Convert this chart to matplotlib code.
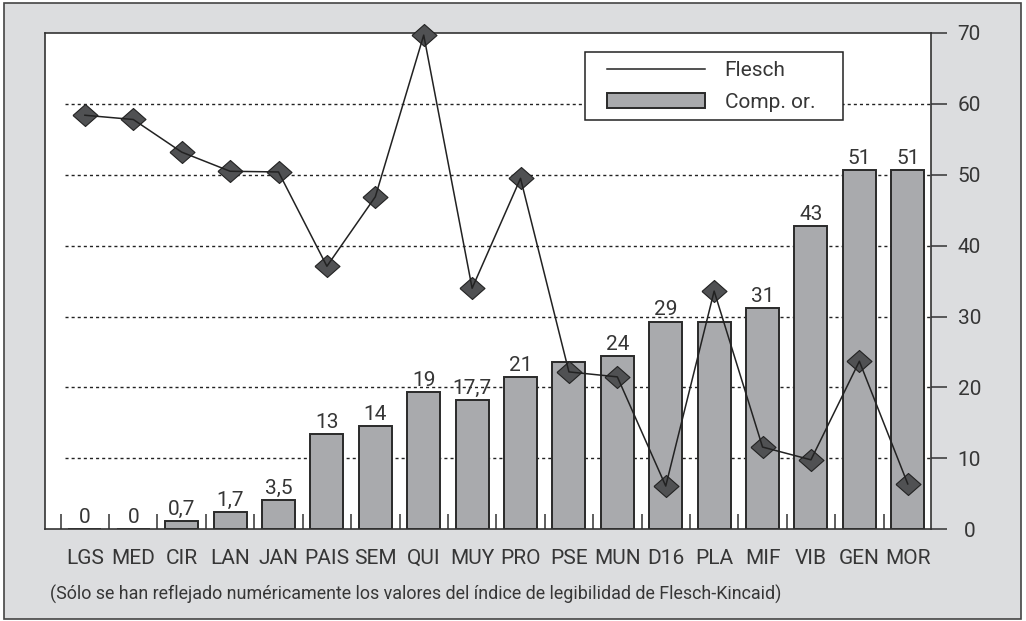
import numpy as np
import matplotlib
matplotlib.use("Agg")
import matplotlib.pyplot as plt
from matplotlib.patches import Rectangle
from matplotlib.lines import Line2D
from matplotlib.patches import Patch

plt.rcParams['font.family'] = ['Roboto', 'DejaVu Sans']

categories = ["LGS", "MED", "CIR", "LAN", "JAN", "PAIS", "SEM", "QUI", "MUY",
              "PRO", "PSE", "MUN", "D16", "PLA", "MIF", "VIB", "GEN", "MOR"]
comp_or = [0, 0, 1.2, 2.4, 4.2, 13.5, 14.6, 19.4, 18.3,
           21.5, 23.6, 24.4, 29.3, 29.3, 31.2, 42.8, 50.7, 50.7]
bar_labels = ["0", "0", "0,7", "1,7", "3,5", "13", "14", "19", "17,7",
              "21", None, "24", "29", None, "31", "43", "51", "51"]
flesch = [58.4, 57.8, 53.2, 50.5, 50.4, 37.1, 46.9, 69.7, 34.0,
          49.5, 22.2, 21.5, 6.1, 33.6, 11.6, 9.8, 23.7, 6.4]
yticks = [0, 10, 20, 30, 40, 50, 60, 70]
note = "(Sólo se han reflejado numéricamente los valores del índice de legibilidad de Flesch-Kincaid)"

TXT = "#363636"
BG = "#dcdddf"
BAR = "#a9aaad"
EDGE = "#2a2a2a"
FS = 15

W, H = 1026, 621
fig = plt.figure(figsize=(W / 100, H / 100), dpi=100)
fig.patch.set_facecolor("white")
fig.add_artist(Rectangle((4 / W, 1 - 619 / H), 1017 / W, 616 / H,
                         transform=fig.transFigure, facecolor=BG,
                         edgecolor="#444444", lw=1.2, zorder=-5))

ax = fig.add_axes([45 / W, 1 - 529.3 / H, 886 / W, 496.3 / H])
ax.set_zorder(1)
ax.set_facecolor("white")
x = np.arange(len(categories))

ax.bar(x, comp_or, width=0.68, color=BAR, edgecolor=EDGE, lw=1.4, zorder=2)
for xi, v, lab in zip(x, comp_or, bar_labels):
    if lab is None:
        continue
    ax.annotate(lab, (xi, v), xytext=(0, 1.5), textcoords="offset points",
                ha="center", va="bottom", fontsize=FS, color=TXT)

diamond = [(-1, 0), (0, 0.88), (1, 0), (0, -0.88), (-1, 0)]
ax.plot(x, flesch, ls="none", marker=diamond, ms=18, mfc="#505153",
        mec="#222222", mew=0.8, zorder=3, clip_on=False)
ax.plot(x, flesch, color="#222222", lw=1.1, zorder=4, clip_on=False)

x0, x1 = -0.824, 17.48
ax.set_xlim(x0, x1)
ax.set_ylim(0, 70)
ax.hlines(yticks[1:-1], -0.41, x1, colors="#222222", lw=1,
          linestyles=(0, (2.2, 2.2)), zorder=1)

ax.yaxis.tick_right()
ax.set_yticks(yticks)
ax.tick_params(axis="y", direction="out", length=11.5, width=1.1,
               color="#333333", pad=16, labelsize=FS, labelcolor=TXT)
for t in ax.get_yticklabels():
    t.set_horizontalalignment("center")

ax.set_xticks(x)
ax.set_xticklabels(categories)
ax.set_xticks(np.arange(-0.5, 17.5, 1), minor=True)
ax.tick_params(axis="x", which="major", length=0, pad=14, labelsize=FS,
               labelcolor=TXT)
ax.tick_params(axis="x", which="minor", direction="in", length=11,
               width=1.1, color="#333333")

for s in ax.spines.values():
    s.set_color("#333333")
    s.set_linewidth(1.2)

# legend box drawn by hand, entries placed inside it
fig.add_artist(Rectangle((585 / W, 1 - 120 / H), 258 / W, 68 / H,
                         transform=fig.transFigure, facecolor="white",
                         edgecolor="#222222", lw=1.1, zorder=5))
handles = [Line2D([], [], color="#222222", lw=1.1),
           Patch(facecolor=BAR, edgecolor=EDGE, lw=1.4)]
leg = fig.legend(handles, ["Flesch", "Comp. or."], loc="upper left",
                 bbox_to_anchor=(607 / W, 1 - 61 / H), frameon=False,
                 fontsize=FS, handlelength=4.7, handleheight=0.77,
                 handletextpad=0.95, labelspacing=0.62, borderpad=0,
                 borderaxespad=0)
leg.set_zorder(6)
for t in leg.get_texts():
    t.set_color(TXT)

fig.text(50 / W, 1 - 594 / H, note, ha="left", va="center",
         fontsize=12.9, color=TXT)

fig.savefig("out.png", dpi=100)
